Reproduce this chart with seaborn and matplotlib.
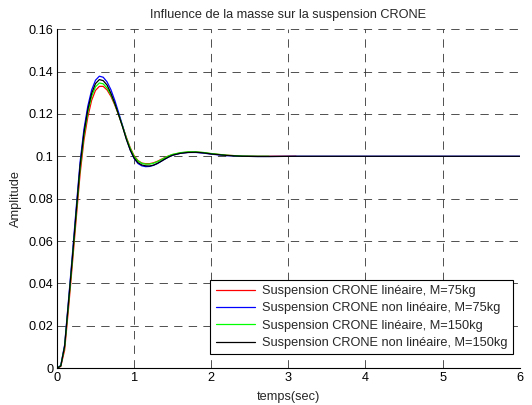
import matplotlib
matplotlib.use("Agg")
import matplotlib.pyplot as plt
import numpy as np
import pandas as pd
import seaborn as sns

# Time grid (s)
temps = [0.00, 0.05, 0.10, 0.15, 0.20, 0.25, 0.30, 0.35, 0.40, 0.45,
         0.50, 0.55, 0.60, 0.65, 0.70, 0.75, 0.80, 0.85, 0.90, 0.95,
         1.00, 1.05, 1.10, 1.15, 1.20, 1.25, 1.30, 1.35, 1.40, 1.45,
         1.50, 1.60, 1.70, 1.80, 1.90, 2.00, 2.20, 2.40, 2.60, 2.75,
         3.10, 4.00, 5.00, 6.00]

# Step responses (amplitude)
lin_75 = [0.0000, 0.0008, 0.0085, 0.0280, 0.0490, 0.0705, 0.0915, 0.1075, 0.1185, 0.1264,
          0.1311, 0.1330, 0.1330, 0.1313, 0.1283, 0.1242, 0.1195, 0.1143, 0.1090, 0.1041,
          0.1003, 0.0980, 0.0968, 0.0965, 0.0965, 0.0969, 0.0976, 0.0985, 0.0994, 0.1002,
          0.1008, 0.1016, 0.1020, 0.1020, 0.1017, 0.1012, 0.1005, 0.1001, 0.1000, 0.1000,
          0.1000]
nonlin_75 = [0.0000, 0.0013, 0.0110, 0.0320, 0.0535, 0.0757, 0.0972, 0.1127, 0.1236, 0.1313,
             0.1359, 0.1378, 0.1373, 0.1351, 0.1314, 0.1264, 0.1206, 0.1146, 0.1083, 0.1030,
             0.0990, 0.0966, 0.0955, 0.0951, 0.0952, 0.0957, 0.0965, 0.0976, 0.0987, 0.0997,
             0.1005, 0.1014, 0.1018, 0.1018, 0.1015, 0.1010, 0.1003, 0.1000, 0.0999, 0.0999,
             0.1000, 0.1000, 0.1000, 0.1000]
lin_150 = [0.0000, 0.0011, 0.0100, 0.0300, 0.0510, 0.0728, 0.0940, 0.1097, 0.1206, 0.1283,
           0.1328, 0.1346, 0.1342, 0.1322, 0.1290, 0.1246, 0.1196, 0.1142, 0.1086, 0.1038,
           0.1000, 0.0978, 0.0967, 0.0963, 0.0963, 0.0967, 0.0974, 0.0983, 0.0993, 0.1002,
           0.1009, 0.1017, 0.1021, 0.1021, 0.1018, 0.1013, 0.1005, 0.1001, 0.1000, 0.1000]
nonlin_150 = [0.0000, 0.0010, 0.0105, 0.0310, 0.0520, 0.0740, 0.0955, 0.1110, 0.1220, 0.1297,
              0.1343, 0.1362, 0.1357, 0.1336, 0.1297, 0.1250, 0.1196, 0.1140, 0.1080, 0.1030,
              0.0992, 0.0970, 0.0959, 0.0955, 0.0954, 0.0958, 0.0966, 0.0976, 0.0987, 0.0997,
              0.1005, 0.1014, 0.1018, 0.1019, 0.1016, 0.1011, 0.1004, 0.1000, 0.0999, 0.0999,
              0.1000, 0.1000, 0.1000, 0.1000]

labels = ["Suspension CRONE linéaire, M=75kg",
          "Suspension CRONE non linéaire, M=75kg",
          "Suspension CRONE linéaire, M=150kg",
          "Suspension CRONE non linéaire, M=150kg"]
series = [lin_75, nonlin_75, lin_150, nonlin_150]
colors = ["#ff0000", "#0000ff", "#00ff00", "#000000"]

x_ticks = [0, 1, 2, 3, 4, 5, 6]
y_ticks = [0, 0.02, 0.04, 0.06, 0.08, 0.1, 0.12, 0.14, 0.16]
y_ticklabels = ["0", "0.02", "0.04", "0.06", "0.08", "0.1", "0.12", "0.14", "0.16"]

frames = []
for lab, vals in zip(labels, series):
    frames.append(pd.DataFrame({"temps": temps[:len(vals)],
                                "amplitude": vals,
                                "serie": lab}))
df = pd.concat(frames, ignore_index=True)

sns.set_style("white")
plt.rcParams["font.family"] = ["Liberation Sans", "DejaVu Sans"]
plt.rcParams["lines.scale_dashes"] = False

FS = 9.2

fig = plt.figure(figsize=(5.32, 4.05), dpi=100)
ax = fig.add_axes([0.107, 0.091, 0.870, 0.837])

sns.lineplot(data=df, x="temps", y="amplitude", hue="serie",
             hue_order=labels, palette=dict(zip(labels, colors)),
             sort=False, estimator=None, linewidth=0.9, ax=ax, legend=False)

ax.set_xlim(0, 6)
ax.set_ylim(0, 0.16)
ax.set_xticks(x_ticks)
ax.set_xticklabels([str(v) for v in x_ticks])
ax.set_yticks(y_ticks)
ax.set_yticklabels(y_ticklabels)
ax.tick_params(direction="in", length=4, width=0.6, labelsize=FS,
               colors="black", pad=2.5)
ax.grid(True, color="#333333", linestyle=(0, (6, 4.5)), linewidth=0.6)

for side in ["top", "right"]:
    ax.spines[side].set_visible(False)
for side in ["left", "bottom"]:
    ax.spines[side].set_color("black")
    ax.spines[side].set_linewidth(0.8)

ax.set_title("Influence de la masse sur la suspension CRONE", fontsize=FS, pad=8)
ax.set_xlabel("temps(sec)", fontsize=FS, labelpad=5)
ax.set_ylabel("Amplitude", fontsize=FS, labelpad=5)

handles = [plt.Line2D([], [], color=c, linewidth=0.9) for c in colors]
leg = ax.legend(handles, labels, loc="lower right", bbox_to_anchor=(0.985, 0.041),
                fontsize=FS, frameon=True, fancybox=False, framealpha=1,
                edgecolor="black", handlelength=3.1, labelspacing=0.42,
                borderpad=0.4, handletextpad=0.55, borderaxespad=0)
leg.get_frame().set_linewidth(0.8)

fig.savefig("out.png", dpi=100)
